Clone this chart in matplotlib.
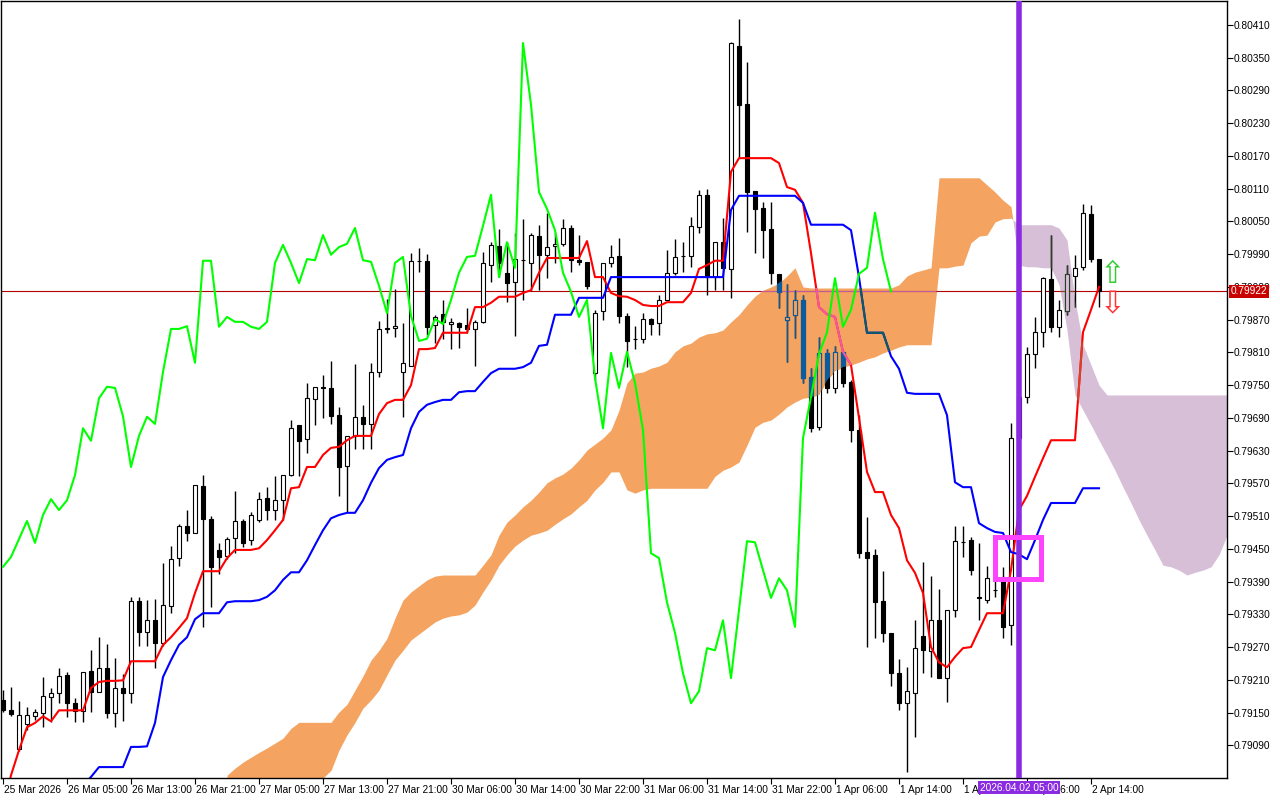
import numpy as np
import matplotlib
matplotlib.use("Agg")
import matplotlib.pyplot as plt
import matplotlib.transforms as mtransforms
from matplotlib.path import Path
from matplotlib.patches import Rectangle
from matplotlib.colors import to_rgb

plt.rcParams["font.family"] = ["Liberation Sans", "DejaVu Sans"]

# H1 bars, 25 Mar 21:00 .. 2 Apr 14:00
opens = [0.79173, 0.79154, 0.79083, 0.79129, 0.79143, 0.79149, 0.79178, 0.79186, 0.79219, 0.79167,
         0.79153, 0.79226, 0.79187, 0.79231, 0.79149, 0.79195, 0.79186, 0.79354, 0.79297, 0.79319,
         0.79277, 0.79345, 0.79433, 0.79492, 0.79479, 0.79565, 0.79505, 0.79448, 0.79437, 0.79470,
         0.79501, 0.79466, 0.79503, 0.79543, 0.79521, 0.79539, 0.79585, 0.79677, 0.79651, 0.79725,
         0.79747, 0.79745, 0.79695, 0.79602, 0.79657, 0.79692, 0.79679, 0.79774, 0.79855, 0.79855,
         0.79774, 0.79785, 0.79978, 0.79978, 0.79860, 0.79880, 0.79862, 0.79864, 0.79860, 0.79853,
         0.79866, 0.79970, 0.80005, 0.79956, 0.79939, 0.79979, 0.79974, 0.80023, 0.79989, 0.80005,
         0.80009, 0.80038, 0.79979, 0.79976, 0.79772, 0.79886, 0.79974, 0.79987, 0.79877, 0.79835,
         0.79835, 0.79871, 0.79864, 0.79906, 0.79956, 0.79987, 0.79987, 0.80040, 0.80099, 0.79948,
         0.80012, 0.79963, 0.80372, 0.80265, 0.80106, 0.80075, 0.80036, 0.79954, 0.79869, 0.79879,
         0.79906, 0.79765, 0.79673, 0.79809, 0.79745, 0.79811, 0.79756, 0.79668, 0.79444, 0.79439,
         0.79354, 0.79296, 0.79222, 0.79167, 0.79186, 0.79290, 0.79263, 0.79319, 0.79213, 0.79338,
         0.79462, 0.79466, 0.79362, 0.79356, 0.79374, 0.79398, 0.79310, 0.79653, 0.79728, 0.79807,
         0.79847, 0.79945, 0.79857, 0.79886, 0.79950, 0.79967, 0.80064, 0.79981]
highs = [0.79191, 0.79197, 0.79171, 0.79160, 0.79156, 0.79215, 0.79195, 0.79231, 0.79224, 0.79176,
         0.79224, 0.79264, 0.79288, 0.79275, 0.79250, 0.79220, 0.79362, 0.79362, 0.79356, 0.79358,
         0.79424, 0.79455, 0.79495, 0.79521, 0.79567, 0.79585, 0.79510, 0.79461, 0.79472, 0.79556,
         0.79505, 0.79517, 0.79554, 0.79563, 0.79583, 0.79585, 0.79686, 0.79677, 0.79754, 0.79747,
         0.79769, 0.79794, 0.79710, 0.79657, 0.79789, 0.79714, 0.79791, 0.79868, 0.79908, 0.79926,
         0.79864, 0.79992, 0.80001, 0.79990, 0.79879, 0.79906, 0.79873, 0.79866, 0.79891, 0.79869,
         0.79994, 0.80012, 0.80036, 0.80012, 0.80029, 0.80055, 0.80029, 0.80044, 0.80066, 0.80029,
         0.80055, 0.80044, 0.80025, 0.79976, 0.79888, 0.79974, 0.80007, 0.80020, 0.79882, 0.79858,
         0.79882, 0.79873, 0.79915, 0.79998, 0.80018, 0.80012, 0.80058, 0.80108, 0.80110, 0.80012,
         0.80056, 0.80379, 0.80421, 0.80342, 0.80106, 0.80086, 0.80086, 0.79954, 0.79935, 0.79924,
         0.79915, 0.79781, 0.79838, 0.79816, 0.79822, 0.79811, 0.79759, 0.79695, 0.79508, 0.79450,
         0.79409, 0.79296, 0.79248, 0.79233, 0.79319, 0.79426, 0.79400, 0.79376, 0.79338, 0.79492,
         0.79492, 0.79472, 0.79461, 0.79418, 0.79406, 0.79417, 0.79681, 0.79741, 0.79820, 0.79875,
         0.79948, 0.80025, 0.79906, 0.79970, 0.79989, 0.80082, 0.80080, 0.79981]
lows = [0.79151, 0.79143, 0.79079, 0.79118, 0.79136, 0.79123, 0.79132, 0.79167, 0.79142, 0.79132,
        0.79132, 0.79151, 0.79187, 0.79140, 0.79123, 0.79134, 0.79167, 0.79272, 0.79272, 0.79231,
        0.79272, 0.79332, 0.79418, 0.79464, 0.79479, 0.79307, 0.79343, 0.79404, 0.79431, 0.79442,
        0.79453, 0.79457, 0.79499, 0.79503, 0.79503, 0.79503, 0.79583, 0.79583, 0.79626, 0.79677,
        0.79690, 0.79679, 0.79547, 0.79517, 0.79633, 0.79633, 0.79633, 0.79765, 0.79846, 0.79838,
        0.79692, 0.79785, 0.79957, 0.79842, 0.79827, 0.79835, 0.79816, 0.79818, 0.79846, 0.79785,
        0.79864, 0.79939, 0.79948, 0.79902, 0.79840, 0.79906, 0.79923, 0.79924, 0.79946, 0.79974,
        0.80005, 0.79957, 0.79970, 0.79926, 0.79759, 0.79869, 0.79967, 0.79864, 0.79783, 0.79816,
        0.79827, 0.79842, 0.79842, 0.79906, 0.79952, 0.79957, 0.79967, 0.80029, 0.79915, 0.79924,
        0.79924, 0.79910, 0.80168, 0.80031, 0.79992, 0.79983, 0.79935, 0.79891, 0.79792, 0.79836,
        0.79754, 0.79664, 0.79668, 0.79736, 0.79736, 0.79747, 0.79646, 0.79433, 0.79270, 0.79286,
        0.79279, 0.79198, 0.79154, 0.79041, 0.79105, 0.79222, 0.79215, 0.79213, 0.79169, 0.79325,
        0.79435, 0.79402, 0.79319, 0.79351, 0.79362, 0.79286, 0.79274, 0.79631, 0.79717, 0.79781,
        0.79820, 0.79847, 0.79838, 0.79879, 0.79893, 0.79961, 0.79976, 0.79893]
closes = [0.79154, 0.79147, 0.79145, 0.79145, 0.79151, 0.79180, 0.79186, 0.79217, 0.79167, 0.79153,
          0.79224, 0.79187, 0.79231, 0.79149, 0.79195, 0.79186, 0.79354, 0.79297, 0.79319, 0.79277,
          0.79347, 0.79431, 0.79492, 0.79479, 0.79567, 0.79505, 0.79417, 0.79435, 0.79468, 0.79501,
          0.79461, 0.79512, 0.79541, 0.79521, 0.79539, 0.79585, 0.79671, 0.79648, 0.79726, 0.79747,
          0.79745, 0.79693, 0.79600, 0.79657, 0.79692, 0.79679, 0.79774, 0.79853, 0.79853, 0.79858,
          0.79791, 0.79978, 0.79978, 0.79857, 0.79875, 0.79866, 0.79866, 0.79857, 0.79853, 0.79866,
          0.79974, 0.80007, 0.79974, 0.79937, 0.79981, 0.79979, 0.80025, 0.79989, 0.80003, 0.80009,
          0.80038, 0.79979, 0.79976, 0.79932, 0.79882, 0.79974, 0.79985, 0.79877, 0.79831, 0.79835,
          0.79871, 0.79862, 0.79906, 0.79956, 0.79985, 0.79987, 0.80042, 0.80099, 0.79948, 0.80012,
          0.79965, 0.80377, 0.80264, 0.80104, 0.80073, 0.80034, 0.79956, 0.79921, 0.79875, 0.79906,
          0.79763, 0.79671, 0.79809, 0.79745, 0.79811, 0.79754, 0.79668, 0.79442, 0.79433, 0.79352,
          0.79296, 0.79222, 0.79167, 0.79189, 0.79268, 0.79264, 0.79319, 0.79213, 0.79338, 0.79464,
          0.79462, 0.79411, 0.79360, 0.79396, 0.79374, 0.79307, 0.79653, 0.79728, 0.79807, 0.79847,
          0.79946, 0.79857, 0.79888, 0.79954, 0.79965, 0.80066, 0.79981, 0.79922]

# Ichimoku lines
tenkan = [0.78971, 0.79035, 0.79081, 0.79123, 0.79131, 0.79143, 0.79134, 0.79154, 0.79154, 0.79154,
          0.79154, 0.79195, 0.79206, 0.79208, 0.79208, 0.79209, 0.79244, 0.79244, 0.79244, 0.79244,
          0.79274, 0.79288, 0.79305, 0.79323, 0.79369, 0.79409, 0.79409, 0.79409, 0.79433, 0.79448,
          0.79448, 0.79448, 0.79451, 0.79466, 0.79484, 0.79503, 0.79561, 0.79563, 0.79600, 0.79600,
          0.79622, 0.79635, 0.79637, 0.79649, 0.79657, 0.79657, 0.79657, 0.79697, 0.79717, 0.79723,
          0.79723, 0.79750, 0.79816, 0.79816, 0.79818, 0.79846, 0.79846, 0.79846, 0.79846, 0.79893,
          0.79893, 0.79901, 0.79912, 0.79912, 0.79912, 0.79919, 0.79924, 0.79956, 0.79983, 0.79983,
          0.79983, 0.79983, 0.79983, 0.80014, 0.79948, 0.79948, 0.79919, 0.79913, 0.79912, 0.79906,
          0.79897, 0.79895, 0.79895, 0.79902, 0.79902, 0.79902, 0.79919, 0.79963, 0.79970, 0.79978,
          0.79978, 0.80141, 0.80166, 0.80166, 0.80166, 0.80166, 0.80166, 0.80157, 0.80113, 0.80108,
          0.80084, 0.79992, 0.79893, 0.79880, 0.79875, 0.79811, 0.79787, 0.79690, 0.79591, 0.79554,
          0.79554, 0.79512, 0.79488, 0.79429, 0.79406, 0.79369, 0.79270, 0.79242, 0.79233, 0.79252,
          0.79268, 0.79270, 0.79301, 0.79332, 0.79332, 0.79332, 0.79411, 0.79521, 0.79547, 0.79582,
          0.79616, 0.79649, 0.79649, 0.79649, 0.79649, 0.79847, 0.79888, 0.79930]
kijun = [None] * 10 + [
    0.79017, 0.79032, 0.79050, 0.79050, 0.79050, 0.79050, 0.79087, 0.79087, 0.79088, 0.79131,
    0.79215, 0.79246, 0.79274, 0.79288, 0.79321, 0.79332, 0.79332, 0.79332, 0.79352, 0.79354,
    0.79354, 0.79354, 0.79356, 0.79362, 0.79374, 0.79393, 0.79407, 0.79407, 0.79429, 0.79457,
    0.79484, 0.79506, 0.79512, 0.79516, 0.79516, 0.79539, 0.79571, 0.79598, 0.79613, 0.79618,
    0.79622, 0.79671, 0.79701, 0.79714, 0.79719, 0.79723, 0.79723, 0.79737, 0.79739, 0.79739,
    0.79756, 0.79772, 0.79780, 0.79780, 0.79780, 0.79783, 0.79791, 0.79822, 0.79824, 0.79879,
    0.79879, 0.79879, 0.79910, 0.79910, 0.79910, 0.79910, 0.79948, 0.79948, 0.79948, 0.79948,
    0.79948, 0.79948, 0.79948, 0.79948, 0.79948, 0.79948, 0.79948, 0.79948, 0.79948, 0.79948,
    0.79948, 0.80071, 0.80097, 0.80097, 0.80097, 0.80097, 0.80097, 0.80097, 0.80097, 0.80097,
    0.80084, 0.80044, 0.80044, 0.80044, 0.80044, 0.80044, 0.80034, 0.79948, 0.79846, 0.79846,
    0.79846, 0.79803, 0.79780, 0.79736, 0.79734, 0.79734, 0.79734, 0.79734, 0.79695, 0.79572,
    0.79563, 0.79563, 0.79497, 0.79488, 0.79481, 0.79479, 0.79444, 0.79440, 0.79431, 0.79466,
    0.79503, 0.79534, 0.79534, 0.79534, 0.79534, 0.79561, 0.79561, 0.79561]

# senkou spans as drawn (already shifted forward), starting at bar 28
cloud_start = 28
span_a = [0.79035, 0.79048, 0.79059, 0.79068, 0.79077, 0.79085, 0.79094, 0.79103, 0.79121, 0.79132,
          0.79132, 0.79132, 0.79132, 0.79132, 0.79151, 0.79165, 0.79191, 0.79217, 0.79246, 0.79264,
          0.79286, 0.79323, 0.79356, 0.79371, 0.79382, 0.79393, 0.79400, 0.79402, 0.79402, 0.79402,
          0.79402, 0.79402, 0.79420, 0.79439, 0.79475, 0.79499, 0.79512, 0.79527, 0.79539, 0.79554,
          0.79571, 0.79580, 0.79587, 0.79598, 0.79613, 0.79631, 0.79642, 0.79653, 0.79668, 0.79704,
          0.79754, 0.79772, 0.79774, 0.79781, 0.79785, 0.79792, 0.79811, 0.79822, 0.79827, 0.79838,
          0.79844, 0.79846, 0.79851, 0.79866, 0.79879, 0.79897, 0.79913, 0.79924, 0.79930, 0.79937,
          0.79950, 0.79965, 0.79930, 0.79928, 0.79928, 0.79928, 0.79928, 0.79928, 0.79928, 0.79928,
          0.79928, 0.79928, 0.79928, 0.79928, 0.79934, 0.79950, 0.79957, 0.79961, 0.79965, 0.80130,
          0.80130, 0.80130, 0.80130, 0.80130, 0.80130, 0.80117, 0.80104, 0.80089, 0.80077, 0.79970,
          0.79967, 0.79967, 0.79965, 0.79965, 0.79934, 0.79851, 0.79732, 0.79704, 0.79677, 0.79649,
          0.79622, 0.79594, 0.79563, 0.79534, 0.79503, 0.79475, 0.79448, 0.79420, 0.79417, 0.79411,
          0.79402, 0.79407, 0.79411, 0.79417, 0.79439, 0.79475]
span_b = [0.78989, 0.78989, 0.78989, 0.78989, 0.78989, 0.78989, 0.78989, 0.78989, 0.78989, 0.78989,
          0.78999, 0.79017, 0.79030, 0.79044, 0.79081, 0.79109, 0.79132, 0.79158, 0.79173, 0.79191,
          0.79219, 0.79246, 0.79264, 0.79283, 0.79294, 0.79305, 0.79316, 0.79323, 0.79327, 0.79329,
          0.79334, 0.79347, 0.79371, 0.79393, 0.79420, 0.79439, 0.79455, 0.79466, 0.79475, 0.79479,
          0.79484, 0.79495, 0.79505, 0.79514, 0.79527, 0.79539, 0.79558, 0.79572, 0.79591, 0.79591,
          0.79558, 0.79552, 0.79558, 0.79561, 0.79561, 0.79561, 0.79561, 0.79561, 0.79561, 0.79561,
          0.79561, 0.79583, 0.79594, 0.79600, 0.79609, 0.79640, 0.79673, 0.79682, 0.79686, 0.79697,
          0.79710, 0.79719, 0.79726, 0.79728, 0.79732, 0.79759, 0.79776, 0.79783, 0.79787, 0.79792,
          0.79798, 0.79802, 0.79809, 0.79814, 0.79820, 0.79824, 0.79824, 0.79824, 0.79824, 0.79965,
          0.79965, 0.79968, 0.79970, 0.80011, 0.80023, 0.80025, 0.80049, 0.80055, 0.80056, 0.80044,
          0.80044, 0.80044, 0.80044, 0.80044, 0.80038, 0.80016, 0.79906, 0.79824, 0.79787, 0.79750,
          0.79732, 0.79732, 0.79732, 0.79732, 0.79732, 0.79732, 0.79732, 0.79732, 0.79732, 0.79732,
          0.79732, 0.79732, 0.79732, 0.79732, 0.79732, 0.79732]

time_ticks = list(range(0, 137, 8))
time_labels = ["25 Mar 2026", "26 Mar 05:00", "26 Mar 13:00", "26 Mar 21:00", "27 Mar 05:00",
               "27 Mar 13:00", "27 Mar 21:00", "30 Mar 06:00", "30 Mar 14:00", "30 Mar 22:00",
               "31 Mar 06:00", "31 Mar 14:00", "31 Mar 22:00", "1 Apr 06:00", "1 Apr 14:00",
               "1 Apr 22:00", "2 Apr 06:00", "2 Apr 14:00"]
price_ticks = [0.79090, 0.79150, 0.79210, 0.79270, 0.79330, 0.79390, 0.79450, 0.79510, 0.79570,
               0.79630, 0.79690, 0.79750, 0.79810, 0.79870, 0.79930, 0.79990, 0.80050, 0.80110,
               0.80170, 0.80230, 0.80290, 0.80350, 0.80410]
marker_bar = 127
marker_text = "2026.04.02 05:00"

o = np.array(opens)
h = np.array(highs)
l = np.array(lows)
c = np.array(closes)
x = np.arange(len(c))
tk = np.array(tenkan, dtype=float)
kj = np.array(kijun, dtype=float)
sa = np.array(span_a)
sb = np.array(span_b)
xc = np.arange(cloud_start, cloud_start + len(sa))

UP_KUMO = "#F4A460"
DN_KUMO = "#D8BFD8"
PRICE_LINE = "#B40000"


def notxor(cloud, col):
    # how the terminal paints the kumo over what is already drawn
    a = np.round(np.array(to_rgb(cloud)) * 255).astype(int)
    b = np.round(np.array(to_rgb(col)) * 255).astype(int)
    return tuple((255 - (a ^ b)) / 255.0)


def draw_price(ax, black, white, red, blue, pline, z, clip=None):
    arts = []
    arts.append(ax.axhline(c[-1], color=pline, lw=0.8, zorder=z))
    arts.append(ax.vlines(x, l, h, color=black, lw=1.0, zorder=z + 0.1))
    face = [white if cc >= oo else black for oo, cc in zip(o, c)]
    bars = ax.bar(x, np.abs(c - o), bottom=np.minimum(o, c), width=0.6,
                  color=face, edgecolor=black, linewidth=0.8, zorder=z + 0.2)
    arts.extend(bars.patches)
    arts.extend(ax.plot(x, tk, color=red, lw=1.5, zorder=z + 0.3))
    arts.extend(ax.plot(x, kj, color=blue, lw=1.5, zorder=z + 0.3))
    if clip is not None:
        for a in arts:
            a.set_clip_path(clip, ax.transData)


fig = plt.figure(figsize=(12.8, 8), dpi=100)
fig.patch.set_facecolor("white")
ax = fig.add_axes([1 / 1280, 22 / 800, 1226 / 1280, 777 / 800])
ax.set_xlim(-0.25, 153.0)
ax.set_ylim(0.79030, 0.80454)

# kumo
up = ax.fill_between(xc, sa, sb, where=sa >= sb, interpolate=True,
                     color=UP_KUMO, lw=0, zorder=1)
dn = ax.fill_between(xc, sa, sb, where=sa < sb, interpolate=True,
                     color=DN_KUMO, lw=0, zorder=1)

draw_price(ax, "black", "white", "red", "blue", PRICE_LINE, 2)

# candles and lines repainted where the kumo covers them
z = 3
for coll, kc in ((up, UP_KUMO), (dn, DN_KUMO)):
    paths = coll.get_paths()
    if not paths:
        continue
    clip = Path.make_compound_path(*paths)
    draw_price(ax, notxor(kc, "black"), notxor(kc, "white"), notxor(kc, "red"),
               notxor(kc, "blue"), notxor(kc, PRICE_LINE), z, clip=clip)
    z += 0.5

# chikou span: close shifted back 26 bars
ax.plot(x[:-26], c[26:], color="#00FF00", lw=1.5, zorder=5)

# chart objects
ax.axvline(marker_bar, color="#8A2BE2", lw=4, zorder=8)
ax.add_patch(Rectangle((123.94, 0.79394), 5.87, 0.000785, fill=False,
                       edgecolor="#FF44FF", lw=3.6, zorder=9))
ax.text(138.75, 0.79952, "\u21e7", color="#33CC33", fontsize=22, family="DejaVu Sans",
        ha="center", va="center", zorder=9)
ax.text(138.75, 0.79898, "\u21e9", color="#FF3333", fontsize=22, family="DejaVu Sans",
        ha="center", va="center", zorder=9)

# axes
for s in ax.spines.values():
    s.set_color("black")
    s.set_linewidth(1)
ax.yaxis.tick_right()
ax.set_yticks(price_ticks)
ax.set_yticklabels(["%.5f" % p for p in price_ticks])
ax.tick_params(axis="y", direction="out", length=4, width=0.8, labelsize=7.3, pad=1)
ax.set_xticks(time_ticks)
ax.set_xticklabels(time_labels)
ax.tick_params(axis="x", direction="out", length=4, width=0.8, labelsize=7.3, pad=1)
shift = mtransforms.ScaledTranslation(1.0 / 72, 0, fig.dpi_scale_trans)
for lab in ax.get_xticklabels():
    lab.set_horizontalalignment("left")
    lab.set_transform(lab.get_transform() + shift)

# current price and marker time boxes
ax.text(1.003, c[-1], "%.5f" % c[-1],
        transform=mtransforms.blended_transform_factory(ax.transAxes, ax.transData),
        ha="left", va="center", color="white", fontsize=7.3, zorder=10, clip_on=False,
        bbox=dict(facecolor="#C80000", edgecolor="none", pad=1.2))
ax.text(marker_bar, -0.006, marker_text,
        transform=mtransforms.blended_transform_factory(ax.transData, ax.transAxes),
        ha="center", va="top", color="white", fontsize=7.3, zorder=10, clip_on=False,
        bbox=dict(facecolor="#8A2BE2", edgecolor="none", pad=1.2))

fig.savefig("out.png", dpi=100)
